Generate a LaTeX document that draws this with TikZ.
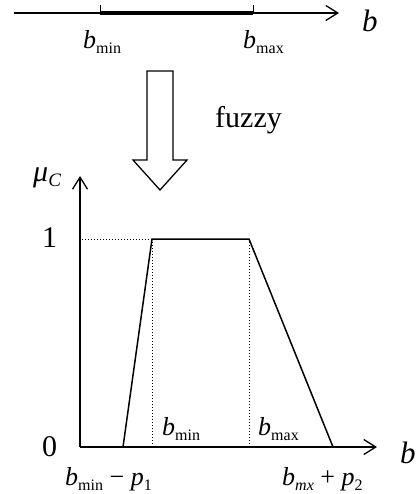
\documentclass[tikz,border=0pt]{standalone}
\usepackage{fontspec}
\setmainfont{Liberation Serif}
\usetikzlibrary{arrows.meta}
\newcommand\bsub[3][\relax]{\textit{#2}\raisebox{-5pt}{\fontsize{16}{16}\selectfont#1#3}}
\begin{document}
\begin{tikzpicture}[x=1pt,y=-1pt,
  lbl/.style={inner sep=0pt, anchor=base west, font=\fontsize{26}{30}\selectfont},
  big/.style={inner sep=0pt, anchor=base west, font=\fontsize{30}{34}\selectfont},
  axis/.style={line width=1.3pt, -{Straight Barb[length=12pt,width=15pt,line width=1.3pt]}},
  curve/.style={line width=1.5pt},
  guide/.style={line width=1pt, dotted},
  hollow/.style={line width=1.3pt, line join=miter}]
\useasboundingbox (0,0) rectangle (417,494);
% top axis
\coordinate (t0) at (14,13);
\coordinate (t1) at (339,13);
\coordinate (tmin) at (100,13);
\coordinate (tmax) at (253,13);
\draw[axis] (t0) -- (t1);
\draw[line width=4pt] (tmin) -- (tmax);
\draw[line width=1pt] (tmin) -- ++(0,-8);
\draw[line width=1pt] (tmax) -- ++(0,-8);
\node[big, font=\fontsize{31}{34}\selectfont\itshape] (btop) at (362,32) {b};
\node[lbl] (lmintop) at (83,49) {\bsub{b}{min}};
\node[lbl] (lmaxtop) at (243,49) {\bsub{b}{max}};
% hollow arrow
\draw[hollow] (147,71) -- (173,71) -- (173,160) -- (187,160) -- (160,190) -- (133,160) -- (147,160) -- cycle;
\node[big] (fuzzy) at (215,128) {fuzzy};
% axes
\coordinate (o) at (80,447);
\coordinate (ytop) at (80,176);
\coordinate (xend) at (377,447);
\draw[axis] (o) -- (ytop);
\draw[axis] (o) -- (xend);
\node[big] (mu) at (33,182) {\textit{μ}\raisebox{-5pt}{\fontsize{19}{19}\selectfont\itshape C}};
\node[big] (one) at (42,247) {1};
\node[big] (zero) at (42,456) {0};
\node[big, font=\fontsize{31}{34}\selectfont\itshape] (bbot) at (400,463) {b};
% trapezoid
\coordinate (p0) at (123,447);
\coordinate (p1) at (152,239);
\coordinate (p2) at (249,239);
\coordinate (p3) at (333,447);
\coordinate (y1) at (82,239);
\coordinate (q1) at (152,447);
\coordinate (q2) at (249,447);
\draw[guide] (y1) -- (p1);
\draw[guide] (p1) -- (q1);
\draw[guide] (p2) -- (q2);
\draw[curve, line join=miter] (p0) -- (p1) -- (p2) -- (p3);
\node[lbl] (lmin) at (162,435) {\bsub{b}{min}};
\node[lbl] (lmax) at (258,435) {\bsub{b}{max}};
\node[lbl] (lleft) at (65,485) {\bsub{b}{min} − \bsub{p}{1}};
\node[lbl] (lright) at (282,485) {\bsub[\itshape]{b}{mx} + \bsub{p}{2}};
\end{tikzpicture}
\end{document}
